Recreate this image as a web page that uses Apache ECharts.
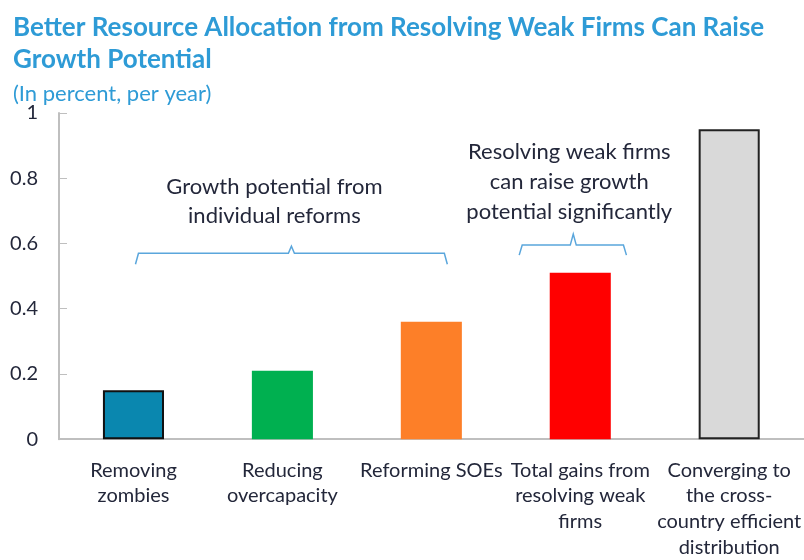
<!DOCTYPE html>
<html>
<head>
<meta charset="utf-8">
<script src="https://cdn.jsdelivr.net/npm/echarts@6/dist/echarts.min.js"></script>
<style>
  html, body { margin: 0; padding: 0; background: #fff; }
  #chart { width: 804px; height: 560px; }
</style>
</head>
<body>
<div id="chart"></div>
<script>
// categories on the x axis
const categories = [
  "Removing\nzombies",
  "Reducing\novercapacity",
  "Reforming SOEs",
  "Total gains from\nresolving weak\nfirms",
  "Converging to\nthe cross-\ncountry efficient\ndistribution"
];
// growth potential, percent per year
const values = [0.15, 0.21, 0.36, 0.51, 0.95];
const barColors = ["#0A87AF", "#00B050", "#FD7F28", "#FF0000", "#D9D9D9"];
const barBorders = ["#111111", null, null, null, "#222222"];
// y axis tick labels
const yTicks = [0, 0.2, 0.4, 0.6, 0.8, 1];

const note1 = "Growth potential from\nindividual reforms";
const note2 = "Resolving weak firms\ncan raise growth\npotential significantly";

const FONT = "Lato, 'Open Sans', sans-serif";
const TEXT = "#23273a";
const BLUE = "#2E9BD6";
const BRACE = "#5AA6DC";

const chart = echarts.init(document.getElementById("chart"));

const option = {
  animation: false,
  textStyle: { fontFamily: FONT },
  title: [
    {
      text: "Better Resource Allocation from Resolving Weak Firms Can Raise\nGrowth Potential",
      left: 8,
      top: 7,
      textStyle: { fontFamily: FONT, fontSize: 26, fontWeight: "bold", color: BLUE, lineHeight: 32 }
    },
    {
      text: "(In percent, per year)",
      left: 8,
      top: 78,
      textStyle: { fontFamily: FONT, fontSize: 22, fontWeight: "normal", color: BLUE }
    }
  ],
  grid: { left: 59, right: -2, top: 113, bottom: 118, containLabel: false },
  xAxis: {
    type: "category",
    data: categories,
    axisLine: { lineStyle: { color: "#BFBFBF", width: 2 } },
    axisTick: { inside: true, length: 6, lineStyle: { color: "#BFBFBF" } },
    axisLabel: { interval: 0, color: TEXT, fontSize: 20, lineHeight: 25.7, margin: 18, fontFamily: FONT }
  },
  yAxis: {
    type: "value",
    min: 0,
    max: 1,
    interval: 0.2,
    splitLine: { show: false },
    axisLine: { show: true, lineStyle: { color: "#BFBFBF", width: 2 } },
    axisTick: { show: true, inside: true, length: 8, lineStyle: { color: "#BFBFBF" } },
    axisLabel: {
      color: TEXT, fontSize: 20, margin: 21, fontFamily: FONT,
      formatter: v => (yTicks.includes(+v.toFixed(1)) ? String(+v.toFixed(1)) : "")
    }
  },
  series: [{
    type: "bar",
    barWidth: "41%",
    data: values.map((v, i) => ({
      value: v,
      itemStyle: {
        color: barColors[i],
        borderColor: barBorders[i] || barColors[i],
        borderWidth: barBorders[i] ? 2 : 0
      }
    }))
  }]
};
chart.setOption(option);

// braces and notes placed from the axes' own scales
function brace(x1, x2, xm, y, h, tip) {
  return {
    type: "polyline",
    shape: { points: [[x1, y + h], [x1 + 3, y], [xm - 3, y], [xm, y - tip], [xm + 3, y], [x2 - 3, y], [x2, y + h]] },
    style: { stroke: BRACE, lineWidth: 1.5, fill: null }
  };
}
const cx = i => chart.convertToPixel({ xAxisIndex: 0 }, i);
const py = v => chart.convertToPixel({ yAxisIndex: 0 }, v);
const step = cx(1) - cx(0);

const b1y = py(0.57), b2y = py(0.595);
chart.setOption({
  graphic: [
    brace(cx(0) + 2, cx(2) + 16, (cx(0) + cx(2) + 18) / 2, b1y, 11, 7),
    brace(cx(3) - step * 0.41, cx(3) + step * 0.31, cx(3) - 7, b2y, 10, 11),
    {
      type: "text",
      x: (cx(0) + cx(2) + 18) / 2 - 17, y: py(0.82) + 1,
      style: { text: note1, fill: TEXT, font: "22px " + FONT, textAlign: "center", lineHeight: 29 }
    },
    {
      type: "text",
      x: cx(3) - 11, y: py(0.925) - 1,
      style: { text: note2, fill: TEXT, font: "22px " + FONT, textAlign: "center", lineHeight: 30 }
    }
  ]
});
</script>
</body>
</html>
